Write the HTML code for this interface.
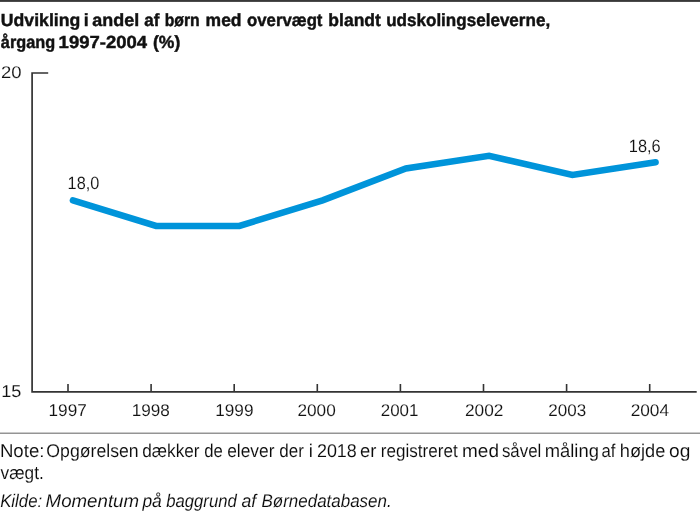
<!DOCTYPE html>
<html lang="da">
<head>
<meta charset="utf-8">
<title>Udvikling i andel af børn med overvægt blandt udskolingseleverne</title>
<style>
html,body{margin:0;padding:0;background:#fff;}
body{width:700px;height:511px;overflow:hidden;font-family:"Liberation Sans",sans-serif;}
svg{display:block;}
text{font-family:"Liberation Sans",sans-serif;text-rendering:geometricPrecision;}
.t{font-weight:bold;font-size:17.6px;fill:#111;stroke:#111;stroke-width:0.45px;}
.n{font-size:18.5px;fill:#0a0a0a;stroke:#fff;stroke-width:0.1px;}
.k{font-size:18.2px;font-style:italic;fill:#0a0a0a;stroke:#fff;stroke-width:0.1px;}
.ax{font-size:17px;fill:#111;stroke:#fff;stroke-width:0.1px;}
.dl{font-size:17.8px;fill:#111;stroke:#fff;stroke-width:0.1px;}
</style>
</head>
<body>
<svg width="700" height="511" viewBox="0 0 700 511">
<rect x="0" y="0" width="700" height="511" fill="#fff"/>
<rect x="0" y="0" width="700" height="1.9" fill="#383838"/>
<g>
<text id="ta0" class="t" x="0.85" y="26" textLength="79.40" lengthAdjust="spacingAndGlyphs">Udvikling</text>
<text id="ta1" class="t" x="83.70" y="26">i</text>
<text id="ta2" class="t" x="92.39" y="26" textLength="46.85" lengthAdjust="spacingAndGlyphs">andel</text>
<text id="ta3" class="t" x="144.18" y="26" textLength="15.13" lengthAdjust="spacingAndGlyphs">af</text>
<text id="ta4" class="t" x="164.71" y="26" textLength="34.99" lengthAdjust="spacingAndGlyphs">børn</text>
<text id="ta5" class="t" x="205.60" y="26" textLength="35.96" lengthAdjust="spacingAndGlyphs">med</text>
<text id="ta6" class="t" x="247.04" y="26" textLength="75.42" lengthAdjust="spacingAndGlyphs">overvægt</text>
<text id="ta7" class="t" x="328.36" y="26" textLength="52.48" lengthAdjust="spacingAndGlyphs">blandt</text>
<text id="ta8" class="t" x="386.18" y="26" textLength="163.96" lengthAdjust="spacingAndGlyphs">udskolingseleverne,</text>
<text id="tb0" class="t" x="0.84" y="48" textLength="54.34" lengthAdjust="spacingAndGlyphs">årgang</text>
<text id="tb1" class="t" x="58.63" y="48" textLength="88.44" lengthAdjust="spacingAndGlyphs">1997-2004</text>
<text id="tb2" class="t" x="153.03" y="48" textLength="27.28" lengthAdjust="spacingAndGlyphs">(%)</text>
</g>
<path d="M48.2 73H32.1V391.9H696.7" fill="none" stroke="#333" stroke-width="1.7"/>
<path d="M68.0 384V391.9M151.1 384V391.9M234.2 384V391.9M317.3 384V391.9M400.4 384V391.9M483.5 384V391.9M566.6 384V391.9M649.7 384V391.9" fill="none" stroke="#333" stroke-width="1.6"/>
<text id="y20" class="ax" x="1.09" y="78" textLength="20.57" lengthAdjust="spacingAndGlyphs">20</text>
<text id="y15" class="ax" x="1.16" y="397" textLength="20.12" lengthAdjust="spacingAndGlyphs">15</text>
<text id="yr0" class="ax" x="48.55" y="416" textLength="38.21" lengthAdjust="spacingAndGlyphs">1997</text>
<text id="yr1" class="ax" x="131.75" y="416" textLength="38.08" lengthAdjust="spacingAndGlyphs">1998</text>
<text id="yr2" class="ax" x="215.28" y="416" textLength="38.16" lengthAdjust="spacingAndGlyphs">1999</text>
<text id="yr3" class="ax" x="297.44" y="416" textLength="38.30" lengthAdjust="spacingAndGlyphs">2000</text>
<text id="yr4" class="ax" x="380.72" y="416" textLength="37.67" lengthAdjust="spacingAndGlyphs">2001</text>
<text id="yr5" class="ax" x="464.94" y="416" textLength="38.43" lengthAdjust="spacingAndGlyphs">2002</text>
<text id="yr6" class="ax" x="548.37" y="416" textLength="37.86" lengthAdjust="spacingAndGlyphs">2003</text>
<text id="yr7" class="ax" x="630.65" y="416" textLength="38.39" lengthAdjust="spacingAndGlyphs">2004</text>
<polyline points="72.9,200.4 156.1,225.9 239.4,225.9 322.6,200.4 405.9,168.5 489.1,155.8 572.4,174.9 655.6,162.2" fill="none" stroke="#0094DA" stroke-width="6.5" stroke-linecap="round" stroke-linejoin="miter"/>
<text id="l0" class="dl" x="67.62" y="189" textLength="31.68" lengthAdjust="spacingAndGlyphs">18,0</text>
<text id="l7" class="dl" x="628.79" y="152" textLength="31.87" lengthAdjust="spacingAndGlyphs">18,6</text>
<rect x="0" y="432.6" width="700" height="1.2" fill="#7a7a7a"/>
<g>
<text id="na0" class="n" x="-0.14" y="457" textLength="44.58" lengthAdjust="spacingAndGlyphs">Note:</text>
<text id="na1" class="n" x="46.36" y="457" textLength="92.34" lengthAdjust="spacingAndGlyphs">Opgørelsen</text>
<text id="na2" class="n" x="142.27" y="457" textLength="57.31" lengthAdjust="spacingAndGlyphs">dækker</text>
<text id="na3" class="n" x="204.32" y="457" textLength="18.60" lengthAdjust="spacingAndGlyphs">de</text>
<text id="na4" class="n" x="227.15" y="457" textLength="47.31" lengthAdjust="spacingAndGlyphs">elever</text>
<text id="na5" class="n" x="279.24" y="457" textLength="24.60" lengthAdjust="spacingAndGlyphs">der</text>
<text id="na6" class="n" x="308.68" y="457">i</text>
<text id="na7" class="n" x="316.92" y="457" textLength="39.92" lengthAdjust="spacingAndGlyphs">2018</text>
<text id="na8" class="n" x="360.10" y="457" textLength="16.41" lengthAdjust="spacingAndGlyphs">er</text>
<text id="na9" class="n" x="380.73" y="457" textLength="76.94" lengthAdjust="spacingAndGlyphs">registreret</text>
<text id="na10" class="n" x="462.06" y="457" textLength="36.91" lengthAdjust="spacingAndGlyphs">med</text>
<text id="na11" class="n" x="501.94" y="457" textLength="39.37" lengthAdjust="spacingAndGlyphs">såvel</text>
<text id="na12" class="n" x="544.78" y="457" textLength="54.11" lengthAdjust="spacingAndGlyphs">måling</text>
<text id="na13" class="n" x="601.52" y="457" textLength="13.95" lengthAdjust="spacingAndGlyphs">af</text>
<text id="na14" class="n" x="619.82" y="457" textLength="45.52" lengthAdjust="spacingAndGlyphs">højde</text>
<text id="na15" class="n" x="669.06" y="457" textLength="21.32" lengthAdjust="spacingAndGlyphs">og</text>
<text id="nb0" class="n" x="0.54" y="479" textLength="43.23" lengthAdjust="spacingAndGlyphs">vægt.</text>
<text id="nc0" class="k" x="0.15" y="507" textLength="42.05" lengthAdjust="spacingAndGlyphs">Kilde:</text>
<text id="nc1" class="k" x="45.59" y="507" textLength="93.47" lengthAdjust="spacingAndGlyphs">Momentum</text>
<text id="nc2" class="k" x="142.43" y="507" textLength="19.34" lengthAdjust="spacingAndGlyphs">på</text>
<text id="nc3" class="k" x="166.19" y="507" textLength="70.59" lengthAdjust="spacingAndGlyphs">baggrund</text>
<text id="nc4" class="k" x="241.43" y="507" textLength="14.70" lengthAdjust="spacingAndGlyphs">af</text>
<text id="nc5" class="k" x="261.48" y="507" textLength="130.25" lengthAdjust="spacingAndGlyphs">Børnedatabasen.</text>
</g>
</svg>
</body>
</html>
